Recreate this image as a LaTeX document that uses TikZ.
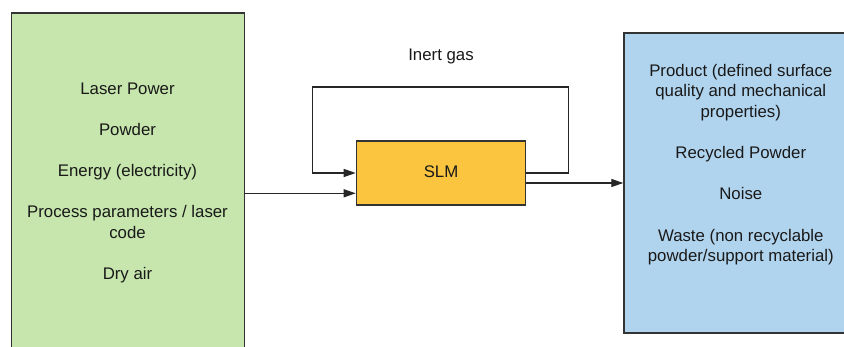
\documentclass[tikz,border=0pt]{standalone}
\usepackage{fontspec}
\setmainfont{Liberation Sans}
\usetikzlibrary{arrows.meta}
\definecolor{ingreen}{HTML}{C6E6AD}
\definecolor{outblue}{HTML}{B1D4EE}
\definecolor{slmorange}{HTML}{FBC53F}
\definecolor{edge}{HTML}{333333}
\tikzset{
  block/.style={draw=edge, line width=1.4pt, inner sep=0pt, anchor=north west},
  label/.style={align=center, inner sep=0pt, text=black!90,
    font=\fontsize{16.8}{20.6}\selectfont},
  link/.style={draw=black!85, line width=1.3pt},
  arr/.style={link, -{Triangle[length=12pt,width=8pt]}}
}
\begin{document}
\begin{tikzpicture}[x=1pt,y=-1pt]
\useasboundingbox (0,0) rectangle (844,347);
\clip (0,0) rectangle (844,347);
\fill[white] (0,0) rectangle (844,347);

% inputs, outputs and the process
\node[block, fill=ingreen, minimum width=232.7pt, minimum height=360pt] (in) at (11,12.3) {};
\node[block, fill=outblue, minimum width=240pt, minimum height=300pt] (out) at (623.3,32.3) {};
\node[block, fill=slmorange, minimum width=169.3pt, minimum height=64pt] (slm) at (355.7,140.3) {};

\node[label] (intext) at (127.5,183) {Laser Power\\[20.6pt]Powder\\[20.6pt]Energy (electricity)\\[20.6pt]Process parameters / laser\\code\\[20.6pt]Dry air};
\node[label] (outtext) at (740.8,164.6) {Product (defined surface\\quality and mechanical\\properties)\\[20.6pt]Recycled Powder\\[20.6pt]Noise\\[20.6pt]Waste (non recyclable\\powder/support material)};
\node[label] (slmtext) at ([yshift=1.2pt]slm.center) {SLM};
\node[label] (gas) at (441,56) {Inert gas};

% inert gas loop around the machine
\coordinate (loopr) at (568.7,87);
\coordinate (loopl) at (312.3,87);
\draw[arr] (slm.east) -| (loopr) -- (loopl) |- (slm.west);

% material flow
\draw[arr] (in.east |- 0,193.3) -- (slm.west |- 0,193.3);
\draw[arr] (slm.east |- 0,183) -- (out.west |- 0,183);
\end{tikzpicture}
\end{document}
